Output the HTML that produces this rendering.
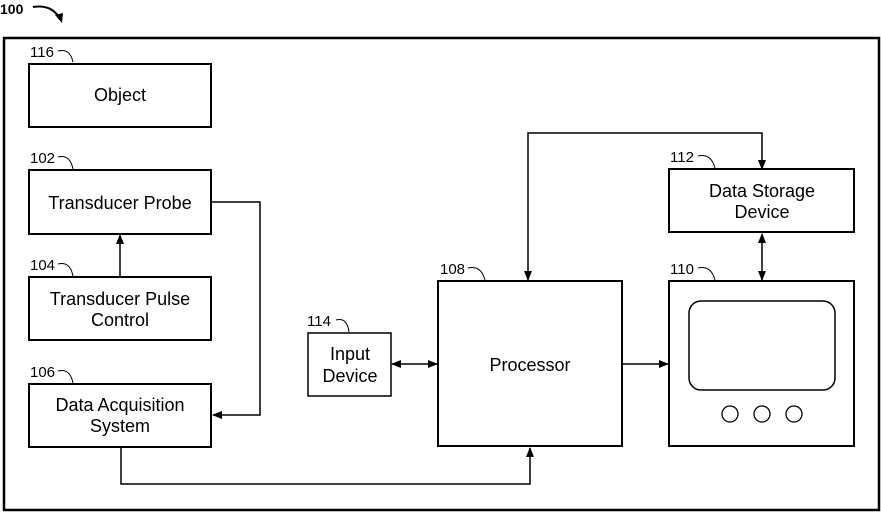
<!DOCTYPE html>
<html><head><meta charset="utf-8"><style>
html,body{margin:0;padding:0;background:#fff;}
svg{display:block;}
text{font-family:"Liberation Sans",sans-serif;fill:#000;}
</style></head><body>
<svg width="881" height="512" viewBox="0 0 881 512" xmlns="http://www.w3.org/2000/svg">
<defs>
<marker id="a" markerWidth="10" markerHeight="8" refX="9" refY="4" orient="auto" markerUnits="userSpaceOnUse">
<path d="M0,0 L10,4 L0,8 z" fill="#000"/></marker>
<marker id="s" markerWidth="10" markerHeight="8" refX="1" refY="4" orient="auto" markerUnits="userSpaceOnUse">
<path d="M10,0 L0,4 L10,8 z" fill="#000"/></marker>
</defs>
<g fill="none" stroke="#000">
<rect x="4" y="38" width="875" height="472" stroke-width="2.5"/>
<rect x="29" y="64" width="182" height="63" stroke-width="2"/>
<rect x="29" y="170" width="182" height="64" stroke-width="2"/>
<rect x="29" y="277" width="182" height="63" stroke-width="2"/>
<rect x="29" y="384" width="182" height="63" stroke-width="2"/>
<rect x="308" y="333" width="83" height="63" stroke-width="1.5"/>
<rect x="438" y="281" width="184" height="165" stroke-width="2"/>
<rect x="669" y="169" width="185" height="63" stroke-width="2"/>
<rect x="669" y="281" width="185" height="165" stroke-width="2"/>
<rect x="689" y="301" width="146" height="89" rx="12" stroke-width="1.5"/>
<circle cx="730" cy="414" r="8" stroke-width="1.3"/>
<circle cx="762" cy="414" r="8" stroke-width="1.3"/>
<circle cx="794" cy="414" r="8" stroke-width="1.3"/>
<g stroke-width="1.5">
<line x1="120" y1="277" x2="120" y2="235" marker-end="url(#a)"/>
<polyline points="212,202 260,202 260,415 213,415" marker-end="url(#a)"/>
<polyline points="121,447 121,484 530,484 530,448" marker-end="url(#a)"/>
<polyline points="762,169 762,133 528,133 528,280" marker-start="url(#s)" marker-end="url(#a)"/>
<line x1="762" y1="234" x2="762" y2="280" marker-start="url(#s)" marker-end="url(#a)"/>
<line x1="392" y1="364" x2="437" y2="364" marker-start="url(#s)" marker-end="url(#a)"/>
<line x1="622" y1="364" x2="668" y2="364" marker-end="url(#a)"/>
</g>
<g stroke-width="1">
<path d="M58,51 Q70,48 73,62"/>
<path d="M58,157 Q70,154 73,169"/>
<path d="M58,264 Q70,261 73,276"/>
<path d="M58,371 Q70,368 73,383"/>
<path d="M336,320 Q347,317 349,332"/>
<path d="M468,268 Q481,265 485,280"/>
<path d="M698,268 Q711,265 715,280"/>
<path d="M698,156 Q711,153 715,168"/>
</g>
<path d="M33,7 Q52,4 60,19" stroke-width="2"/>
</g>
<path d="M55,15 L62,23 L63,13 z" fill="#000"/>
<text x="0" y="14" font-size="14" font-weight="bold">100</text>
<g font-size="15">
<text x="30" y="57">116</text><text x="30" y="163">102</text><text x="30" y="270">104</text>
<text x="30" y="377">106</text><text x="307" y="326">114</text><text x="440" y="274">108</text>
<text x="670" y="162">112</text><text x="670" y="274">110</text>
</g>
<g font-size="18" text-anchor="middle">
<text x="120" y="101">Object</text>
<text x="120" y="209">Transducer Probe</text>
<text x="120" y="305">Transducer Pulse</text><text x="120" y="326">Control</text>
<text x="120" y="411">Data Acquisition</text><text x="120" y="432">System</text>
<text x="350" y="360">Input</text><text x="350" y="382">Device</text>
<text x="530" y="371">Processor</text>
<text x="762" y="197">Data Storage</text><text x="762" y="218">Device</text>
</g>
</svg>
</body></html>
